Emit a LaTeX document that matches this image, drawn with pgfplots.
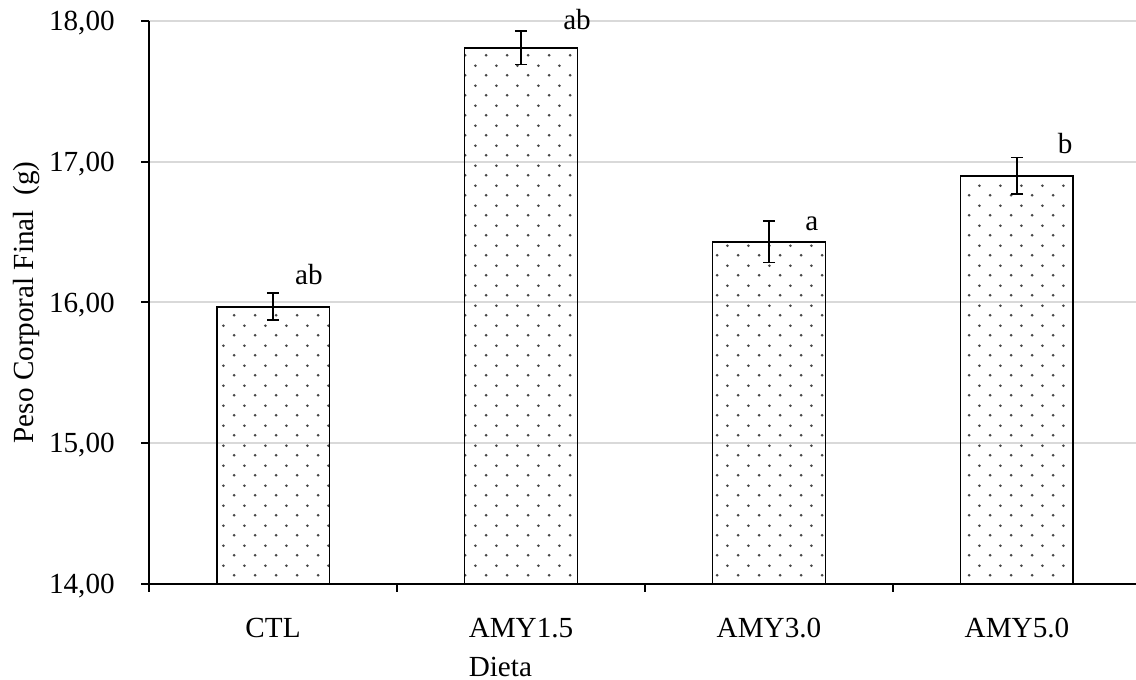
\documentclass[border=0pt]{standalone}
\usepackage{fontspec}
\setmainfont{Liberation Serif}
\usepackage{pgfplots}
\pgfplotsset{compat=1.18}
\usetikzlibrary{patterns.meta}

\definecolor{gridgray}{HTML}{D9D9D9}
\newcommand{\fsz}{\fontsize{13.5}{16}\selectfont}

% staggered dot fill like the Excel "dotted" pattern
\pgfdeclarepattern{
  name=exceldots,
  type=uncolored,
  bottom left={\pgfpoint{0pt}{0pt}},
  top right={\pgfpoint{9.63pt}{9.26pt}},
  tile size={\pgfpoint{9.63pt}{9.26pt}},
  code={
    \pgfpathcircle{\pgfpoint{2.4pt}{2.3pt}}{0.68pt}
    \pgfpathcircle{\pgfpoint{7.2pt}{6.93pt}}{0.68pt}
    \pgfusepath{fill}
  }
}

\begin{document}
\begin{tikzpicture}
\begin{axis}[
    name=ax,
    scale only axis,
    width=456.9pt, height=260.6pt,
    axis lines=left,
    axis line style={-, line width=0.9pt},
    xmin=-0.5, xmax=3.48,
    ymin=14, ymax=18,
    ytick={14,15,16,17,18},
    xtick={0,1,2,3},
    xticklabels={CTL, AMY1.5, AMY3.0, AMY5.0},
    minor xtick={-0.5,0.5,1.5,2.5},
    tick align=outside,
    major tick length=3.7pt,
    minor tick length=3.7pt,
    x tick style={draw=none},
    minor x tick style={draw=black, line width=0.9pt},
    y tick style={black, line width=0.9pt},
    ymajorgrids,
    major grid style={gridgray, line width=0.9pt},
    /pgf/number format/.cd, fixed, fixed zerofill, precision=2, use comma, 1000 sep={}, assume math mode=true,
    /pgfplots/.cd,
    tick label style={font=\fsz},
    yticklabel style={anchor=base east, inner sep=0pt, xshift=-12pt, yshift=-4.5pt},
    xticklabel style={anchor=base, inner sep=0pt, yshift=-21.3pt},
    xlabel={\fsz Dieta},
    ylabel={\fsz Peso Corporal Final\ \ (g)},
    label style={font=\fsz},
    xlabel style={at={(axis description cs:0.356,-0.165)}, anchor=base, inner sep=0pt},
    ylabel style={at={(axis description cs:-0.1175,0.5)}, anchor=base, inner sep=0pt},
]
\addplot[ybar, bar width=52.3pt, draw=black, line width=0.9pt,
    pattern=exceldots, pattern color=black!72,
    error bars/.cd, y dir=both, y explicit,
    error bar style={black, line width=0.8pt},
    error mark options={rotate=90, black, line width=0.8pt, mark size=2.8pt}]
coordinates {
    (0,15.97) +- (0,0.095)
    (1,17.81) +- (0,0.12)
    (2,16.43) +- (0,0.146)
    (3,16.90) +- (0,0.13)
};
\addplot[draw=none, mark=none, nodes near coords, point meta=explicit symbolic,
    nodes near coords style={anchor=base, inner sep=0pt, font=\fsz}]
table[meta=lab] {
x     y       lab
0.145 16.124  ab
1.226 17.936  ab
2.173 16.508  a
3.194 17.055  b
};
\end{axis}
\pgfresetboundingbox
\path ([xshift=-69pt,yshift=-44.4pt]ax.south west) rectangle ([yshift=9.7pt]ax.north east);
\end{tikzpicture}
\end{document}
